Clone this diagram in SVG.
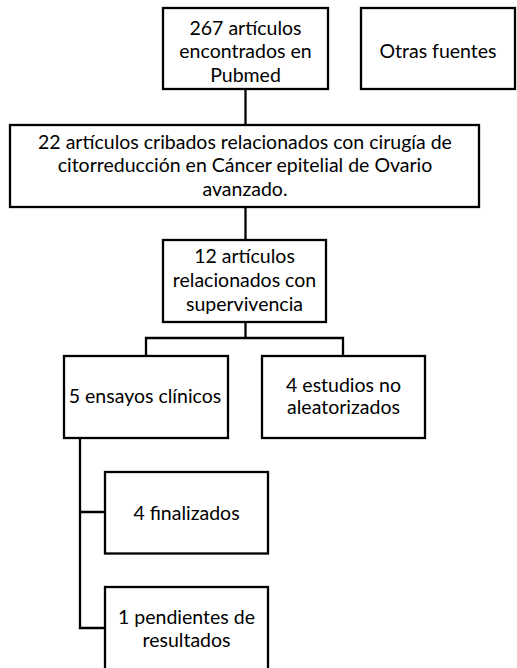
<svg xmlns="http://www.w3.org/2000/svg" width="517" height="668" viewBox="0 0 517 668">
<style>
.box{fill:#fff;stroke:#000;stroke-width:2.3}
.ln{fill:none;stroke:#000;stroke-width:2.3}
text{font-family:Lato,"Liberation Sans",sans-serif;font-size:19.5px;fill:#000;text-anchor:middle}
</style>
<rect width="517" height="668" fill="#fff"/>
<g id="connectors">
<path class="ln" d="M245.5,89 V125"/>
<path class="ln" d="M245.5,207 V240"/>
<path class="ln" d="M245.5,322 V338 M146,356 V338 H343 V356"/>
<path class="ln" d="M80,438 V628 H105 M80,512 H105"/>
</g>
<g id="n1"><rect class="box" x="163" y="8" width="165" height="81"/>
<text x="245.5" y="34.5">267 artículos</text><text x="245.5" y="58">encontrados en</text><text x="245.5" y="81.7">Pubmed</text></g>
<g id="n2"><rect class="box" x="361" y="8" width="154" height="81"/>
<text x="438" y="58">Otras fuentes</text></g>
<g id="n3"><rect class="box" x="10" y="125" width="469" height="82"/>
<text x="245" y="148.5">22 artículos cribados relacionados con cirugía de</text><text x="245" y="172">citorreducción en Cáncer epitelial de Ovario</text><text x="245" y="195.5">avanzado.</text></g>
<g id="n4"><rect class="box" x="163" y="240" width="163" height="82"/>
<text x="244.5" y="263.3">12 artículos</text><text x="244.5" y="286.7">relacionados con</text><text x="244.5" y="310.5">supervivencia</text></g>
<g id="n5"><rect class="box" x="64" y="356" width="164" height="82"/>
<text x="145" y="403.3">5 ensayos clínicos</text></g>
<g id="n6"><rect class="box" x="262" y="356" width="163" height="82"/>
<text x="343.5" y="391.7">4 estudios no</text><text x="343.5" y="414">aleatorizados</text></g>
<g id="n7"><rect class="box" x="105" y="472" width="163" height="81.5"/>
<text x="186.5" y="520">4 finalizados</text></g>
<g id="n8"><rect class="box" x="105" y="587" width="163" height="84"/>
<text x="186.5" y="624.3">1 pendientes de</text><text x="186.5" y="646.7">resultados</text></g>
</svg>
